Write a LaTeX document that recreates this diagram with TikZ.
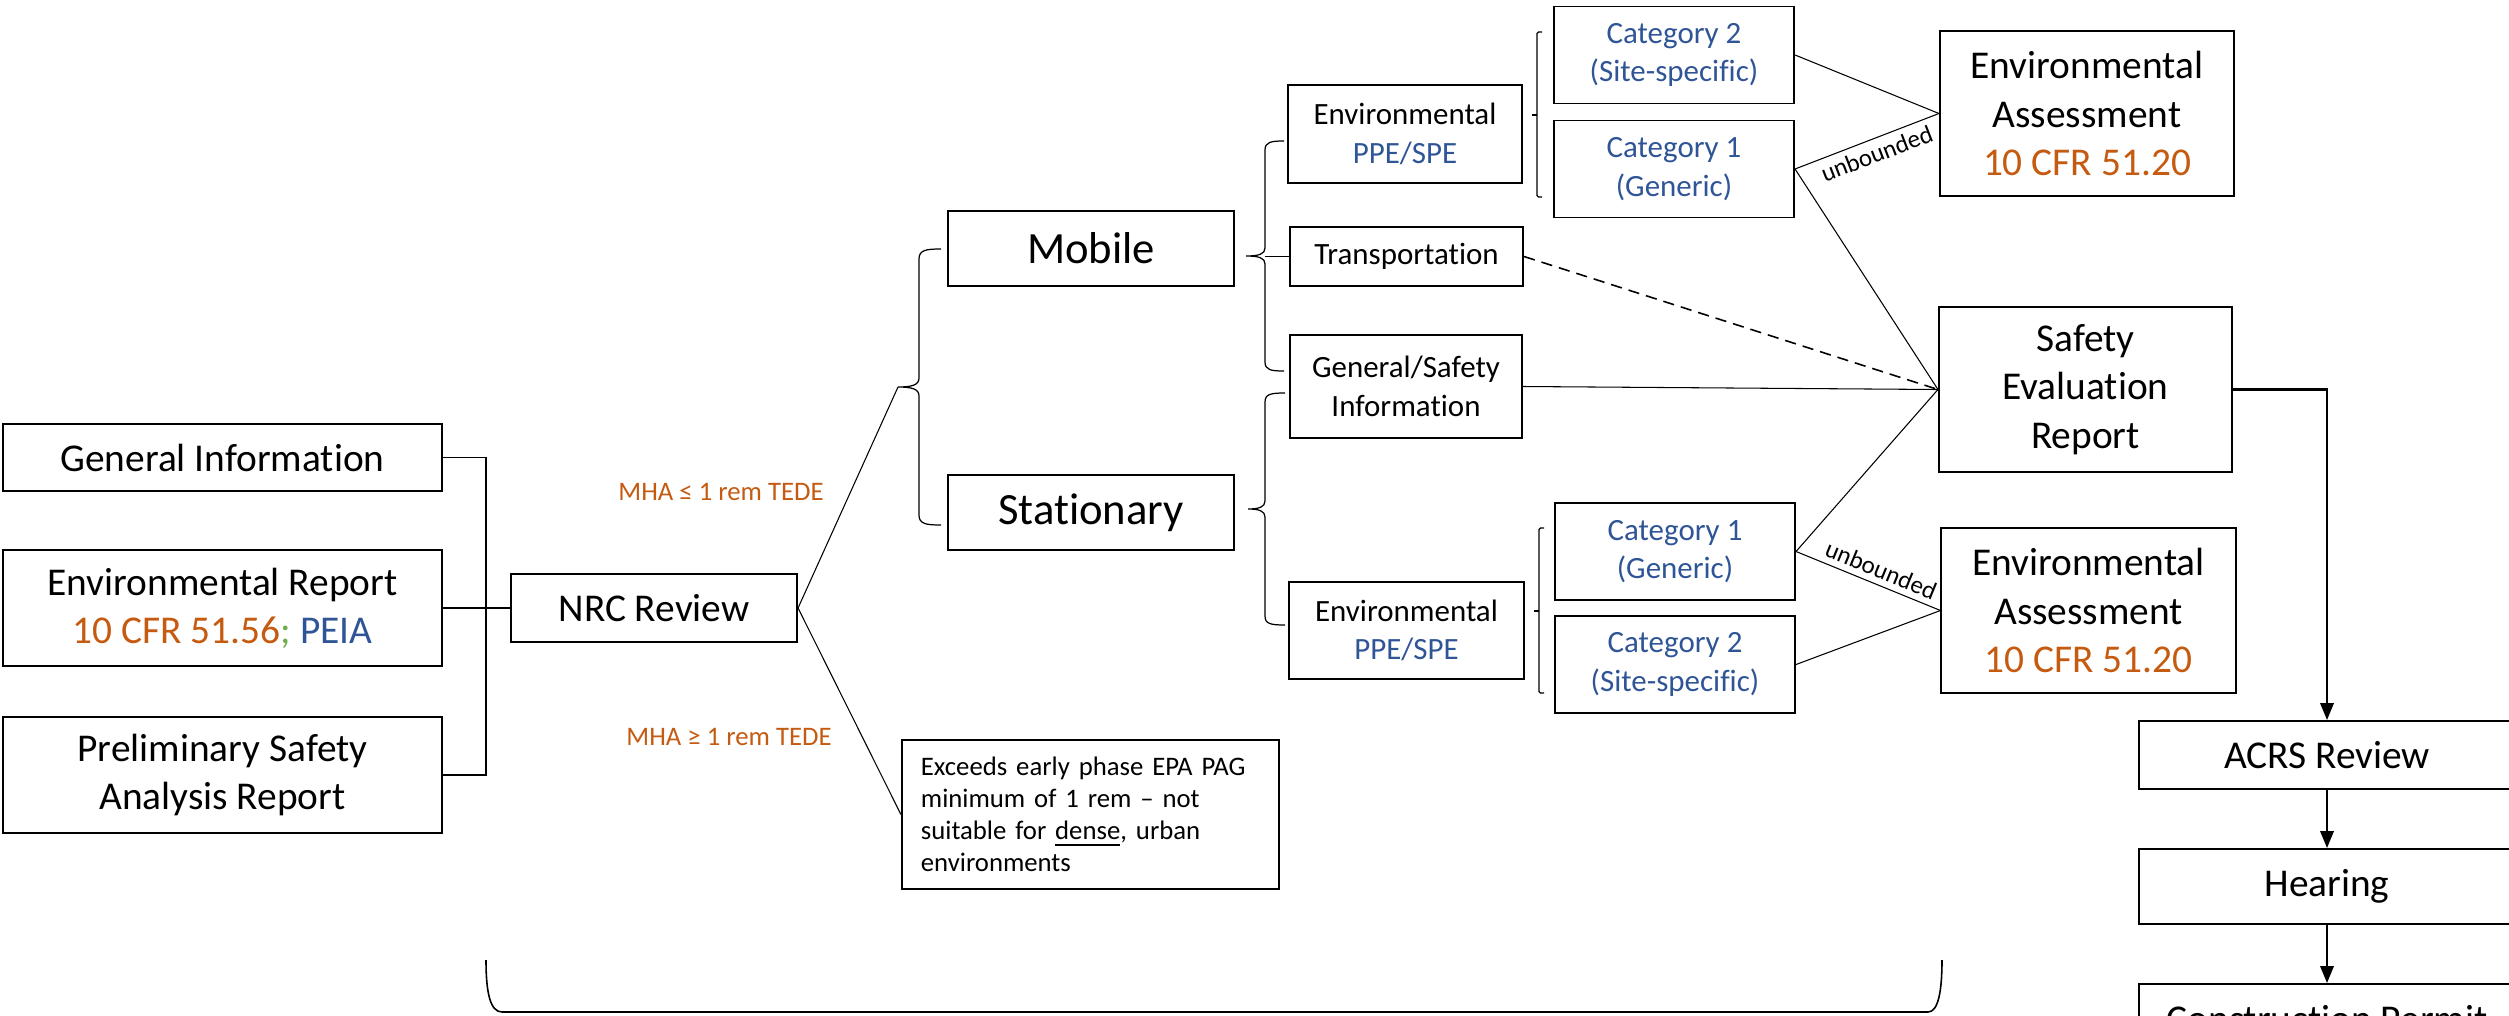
\documentclass[tikz,border=0pt]{standalone}
\usepackage{fontspec}
\setmainfont{Carlito}[Ligatures={TeX,NoCommon}]
\usetikzlibrary{positioning,arrows.meta}

\definecolor{cfrorange}{HTML}{C55A11}
\definecolor{ppeblue}{HTML}{2F5597}
\definecolor{semigreen}{HTML}{70AD47}

\tikzset{
    bigbox/.style={draw, line width=0.55pt, inner sep=0pt, align=center,
        font=\fontsize{11.2}{13.7}\selectfont},
    typebox/.style={draw, line width=0.55pt, inner sep=0pt, align=center,
        minimum width=2.86cm, minimum height=0.75cm,
        font=\fontsize{12.7}{15}\selectfont},
    smallbox/.style={draw, line width=0.55pt, inner sep=0pt, align=center,
        minimum width=2.34cm, font=\fontsize{8.8}{10.9}\selectfont},
    catbox/.style={smallbox, minimum width=2.40cm, minimum height=0.97cm,
        text=ppeblue},
    link/.style={line width=0.3pt},
    curly/.style={line width=0.35pt}
}

\begin{document}
\begin{tikzpicture}[
    x=0.01cm, y=-0.01cm,
    arrow/.style={-{Triangle[length=4.8pt,width=3.8pt]}, line width=0.6pt},
    tag/.style={text=cfrorange, inner sep=0pt, font=\fontsize{7.6}{9.1}\selectfont},
    bound/.style={sloped, inner sep=1.6pt, font=\fontsize{7.1}{8}\selectfont},
]
\useasboundingbox (0,0) rectangle (2509,1015);

% ============ Application ============

\node[bigbox, minimum width=4.39cm, minimum height=0.67cm] (geninfo)
    at (222.5,457.5) {General Information};
\node[bigbox, minimum width=4.39cm, minimum height=1.16cm] (envrep)
    at (222.5,608) {Environmental Report\\\textcolor{cfrorange}{10 CFR 51.56}\textcolor{semigreen}{;} \textcolor{ppeblue}{PEIA}};
\node[bigbox, minimum width=4.39cm, minimum height=1.16cm] (psar)
    at (222.5,775) {Preliminary Safety\\Analysis Report};

\coordinate (join) at (486,608);

\node[bigbox, minimum width=2.86cm, minimum height=0.68cm] (nrc)
    at (654,608) {NRC Review};

% ============ Reactor Type ============

\node[typebox] (mobile) at (1091,248.5) {Mobile};
\node[typebox, below=1.87cm of mobile] (stationary) {Stationary};

\node[tag] (lowdose) at (721,492) {MHA ≤ 1 rem TEDE};
\node[tag] (highdose) at (729,737) {MHA ≥ 1 rem TEDE};

\node[draw, line width=0.55pt, text width=3.39cm, inner xsep=0.19cm, inner ysep=0pt,
    minimum height=1.49cm, align=left, font=\fontsize{7.6}{9.1}\selectfont] (exceeds)
    at (1090.5,814.5) {Exceeds early phase EPA PAG\\minimum of 1 rem – not\\suitable for \underline{dense}, urban\\environments};

\coordinate (typetip) at (898,387);
\coordinate (mobspine) at (1265,256.5);

% ============ Mobile / Stationary Branches ============

\node[smallbox, minimum height=0.98cm] (envmob) at (1405,134)
    {Environmental\\\textcolor{ppeblue}{PPE/SPE}};
\node[smallbox, minimum width=2.33cm, minimum height=0.59cm] (transport)
    at (1406.5,256.5) {Transportation};
\node[smallbox, minimum width=2.32cm, minimum height=1.03cm] (gensafe)
    at (1406,386.5) {General/Safety\\Information};
\node[smallbox, minimum height=0.97cm] (envstat) at (1406.5,630.5)
    {Environmental\\\textcolor{ppeblue}{PPE/SPE}};

\node[catbox] (cat2a) at (1674,55) {Category 2\\(Site-specific)};
\node[catbox, below=0.15cm of cat2a] (cat1a) {Category 1\\(Generic)};
\node[catbox] (cat1b) at (1675,551.5) {Category 1\\(Generic)};
\node[catbox, below=0.14cm of cat1b] (cat2b) {Category 2\\(Site-specific)};

% ============ Reviews ============

\node[bigbox, minimum width=2.94cm, minimum height=1.65cm] (envassess1)
    at (2087,113.5) {Environmental\\Assessment\\\textcolor{cfrorange}{10 CFR 51.20}};
\node[bigbox, minimum width=2.93cm, minimum height=1.65cm] (ser)
    at (2085.5,389.5) {Safety\\Evaluation\\Report};
\node[bigbox, minimum width=2.94cm, minimum height=1.65cm] (envassess2)
    at (2088.5,610.5) {Environmental\\Assessment\\\textcolor{cfrorange}{10 CFR 51.20}};

\node[bigbox, minimum width=3.76cm, minimum height=0.68cm] (acrs)
    at (2327,755) {ACRS Review};
\node[bigbox, minimum width=3.76cm, minimum height=0.75cm, below=0.58cm of acrs] (hearing)
    {Hearing};
\node[bigbox, minimum width=3.76cm, minimum height=0.70cm, below=0.58cm of hearing] (permit)
    {Construction Permit};

% ============ Braces ============

\draw[curly] (941,249) .. controls (926,249) and (919,250) .. (919,259) -- (919,378)
    .. controls (919,385) and (912,387) .. (typetip)
    .. controls (912,387) and (919,389) .. (919,396) -- (919,515)
    .. controls (919,524) and (926,525) .. (941,525);

\draw[curly] (1284,141) .. controls (1271,141) and (1265,142) .. (1265,150) -- (1265,248)
    .. controls (1265,254) and (1259,256) .. (1246,256)
    .. controls (1259,256) and (1265,258) .. (1265,264) -- (1265,362)
    .. controls (1265,370) and (1271,371) .. (1284,371);

\draw[curly] (1285,393) .. controls (1271,393) and (1265,394) .. (1265,402) -- (1265,501)
    .. controls (1265,507) and (1259,509) .. (1248,509)
    .. controls (1259,509) and (1265,511) .. (1265,517) -- (1265,616)
    .. controls (1265,624) and (1271,625) .. (1285,625);

\draw[curly, rounded corners=0.015cm] (1542,32) -- (1537,32) -- (1537,197) -- (1542,197);
\draw[curly] (1532,115) -- (1537,115);
\draw[curly, rounded corners=0.015cm] (1544,528) -- (1539,528) -- (1539,693) -- (1544,693);
\draw[curly] (1534,611) -- (1539,611);

\draw[curly, line width=0.45pt] (486,960) .. controls (486,992) and (490,1012) .. (502,1012)
    -- (1928,1012) .. controls (1938,1012) and (1942,992) .. (1942,960);

% ============ Links ============

\draw[link] (geninfo.east) -| (join) |- (psar.east);
\draw[link] (envrep.east) -- (nrc.west);
\draw[link] (nrc.east) -- (typetip);
\draw[link] (nrc.east) -- (exceeds.west);
\draw[link] (transport.west) -- (mobspine);

\draw[link] (cat2a.east) -- (envassess1.west);
\draw[link] (cat1a.east) -- node[bound, below, pos=0.53] {unbounded} (envassess1.west);
\draw[link] (cat1a.east) -- (ser.west);
\draw[line width=0.45pt, dash pattern=on 3.2pt off 2pt] (transport.east) -- (ser.west);
\draw[link] (gensafe.east) -- (ser.west);
\draw[link] (cat1b.east) -- (ser.west);
\draw[link] (cat1b.east) -- node[bound, above, pos=0.55] {unbounded} (envassess2.west);
\draw[link] (cat2b.east) -- (envassess2.west);

\draw[arrow] (ser.east) -| (acrs.north);
\draw[arrow] (acrs) -- (hearing);
\draw[arrow] (hearing) -- (permit);

\end{tikzpicture}
\end{document}
